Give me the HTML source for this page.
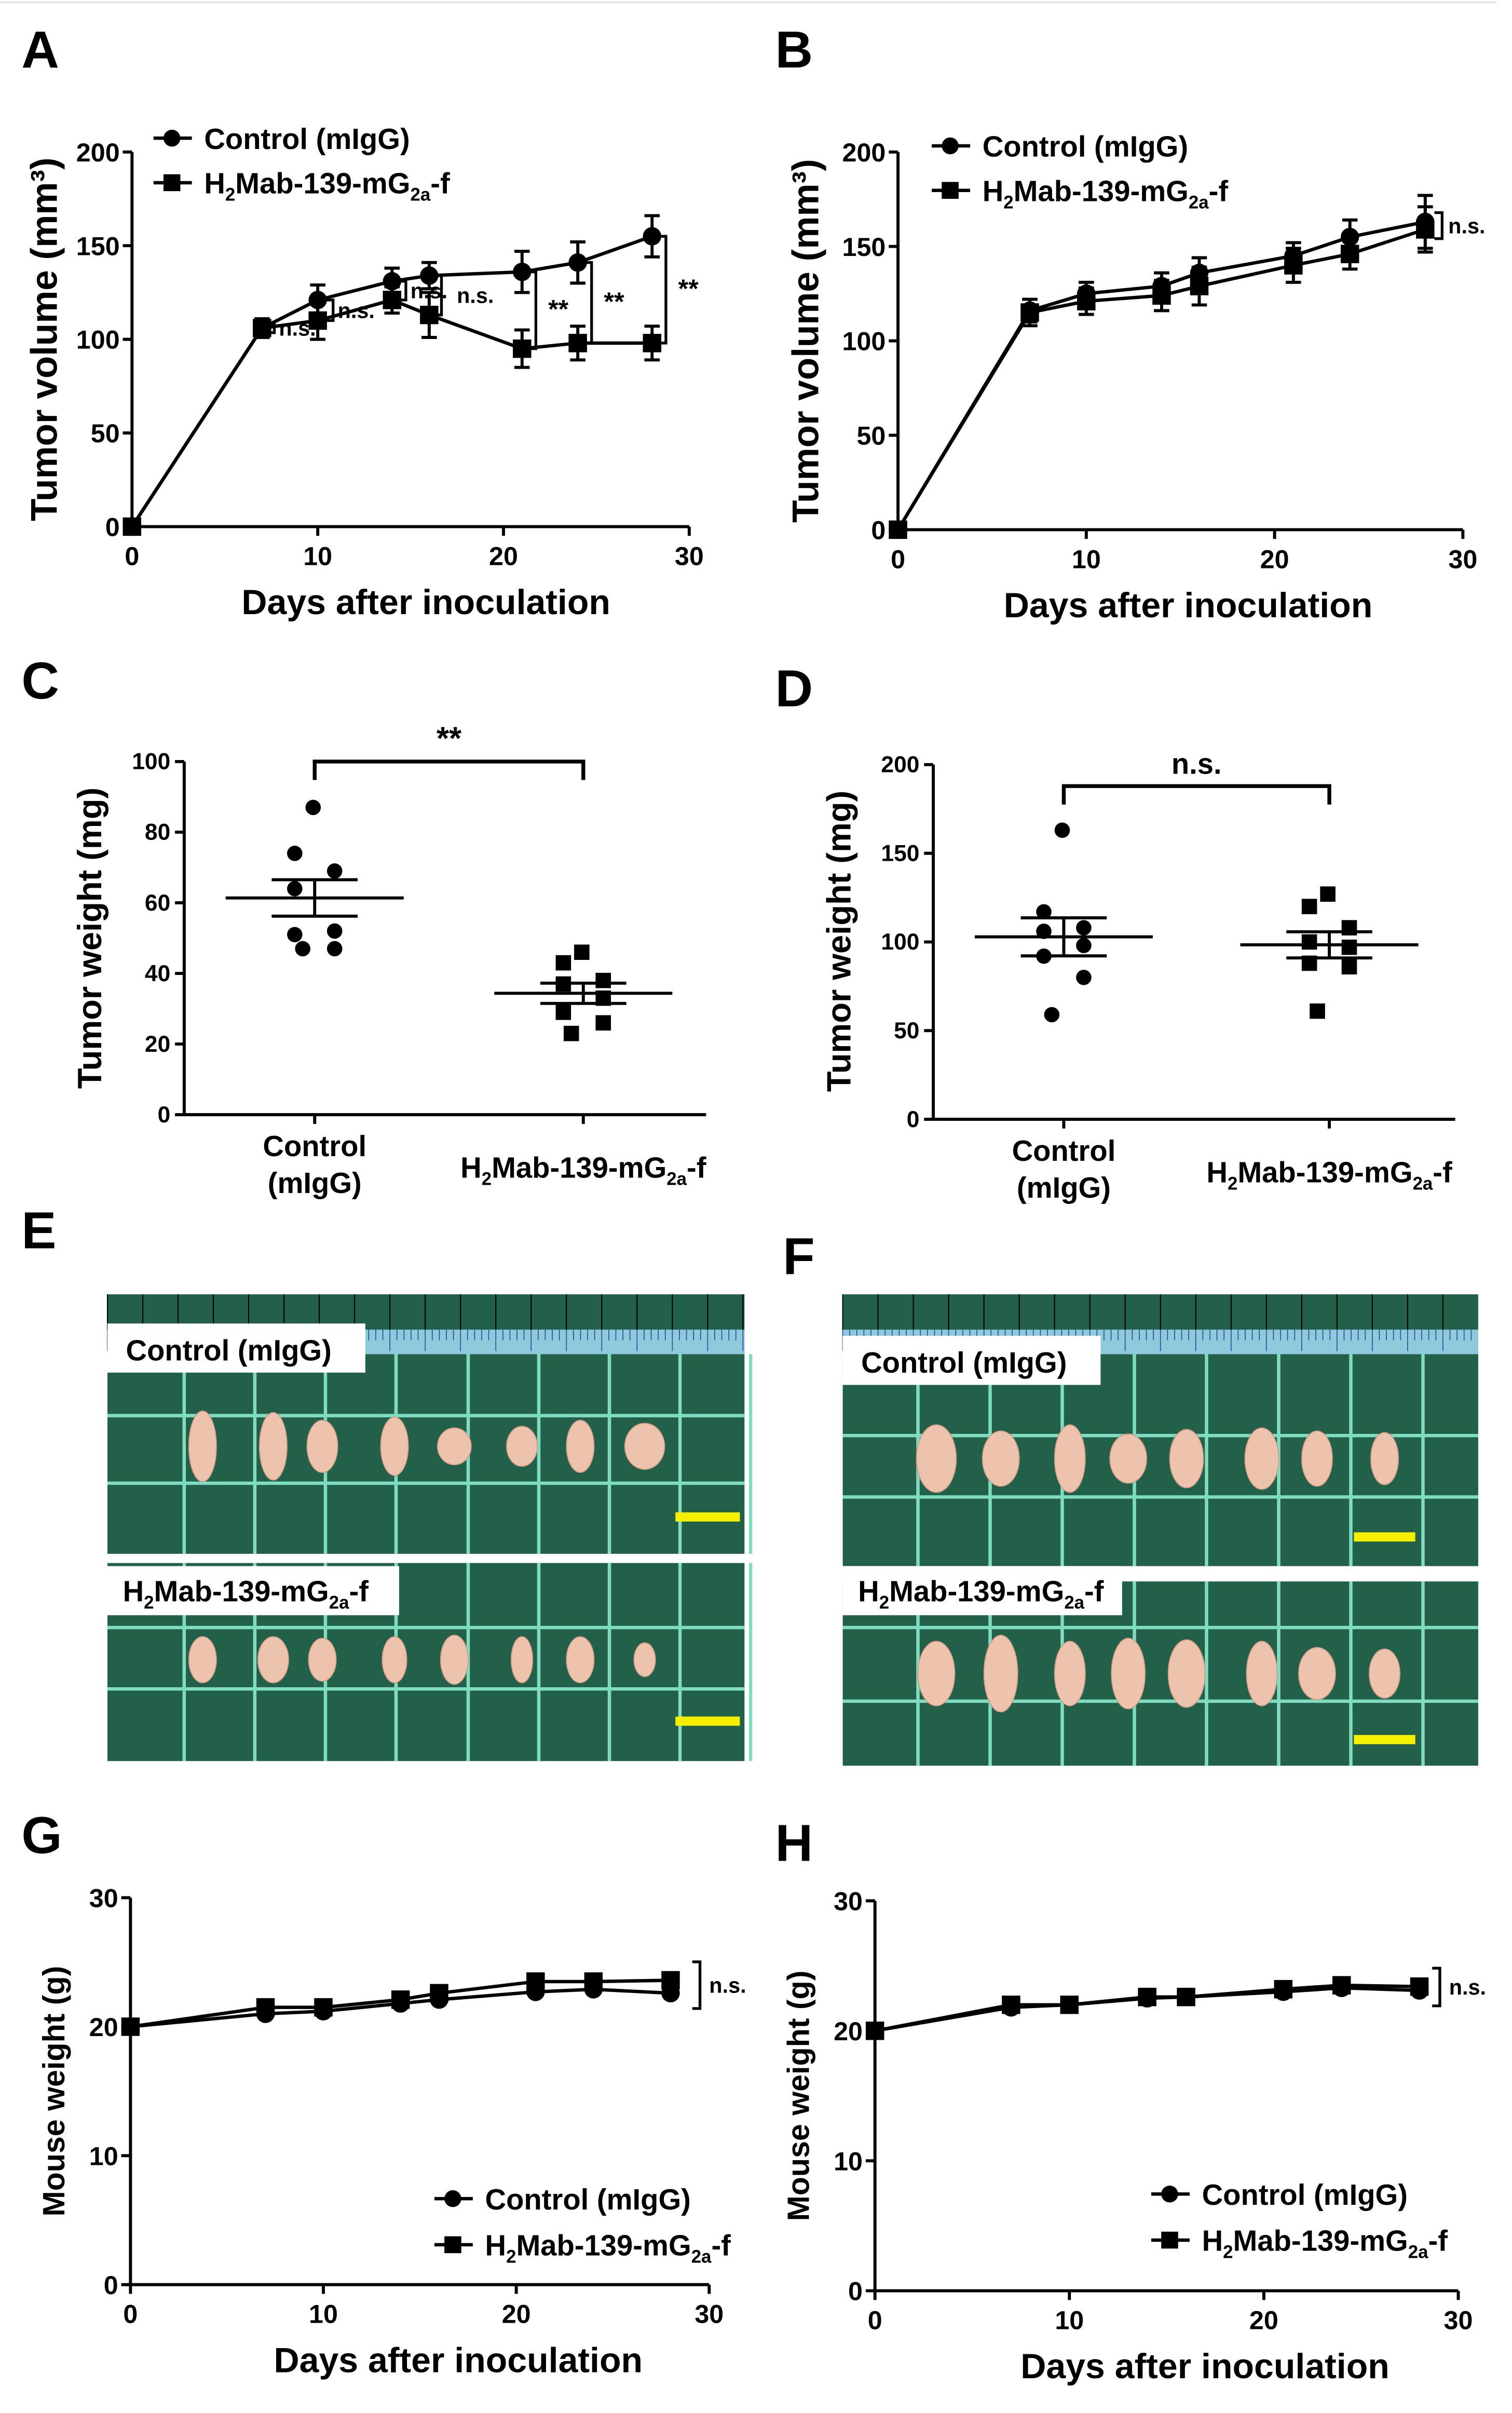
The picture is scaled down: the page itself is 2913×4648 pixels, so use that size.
<!DOCTYPE html>
<html><head><meta charset="utf-8"><style>
html,body{margin:0;padding:0;background:#fff}
svg{display:block}
text{font-family:"Liberation Sans",Arial,sans-serif;font-weight:bold;fill:#000}
</style></head><body>
<svg id="fig" width="2913" height="4648" viewBox="0 0 985 1571.6" preserveAspectRatio="none" xmlns="http://www.w3.org/2000/svg">
<line x1="0" y1="1.5" x2="975" y2="1.5" stroke="#ddd" stroke-width="1"/>
<g id="root"></g>
</svg>
<script>
// ---- data ----
const days = [0,7,10,14,16,21,24,28];
const aCtrl = [0,106,121,131,134,136,141,155];
const aCtrlErr = [0,5,8,7,7,11,11,11];
const aTrt = [0,106,110,121,113,95,98,98];
const aTrtErr = [0,5,10,7,12,10,9,9];
const bCtrl = [0,116,125,129,136,145,155,163];
const bCtrlErr = [0,6,6,7,8,7,9,14];
const bTrt = [0,115,121,124,129,140,146,159];
const bTrtErr = [0,7,7,8,10,9,8,12];
const cCtrl = [87,74,69,64,52,51,47,47];
const cTrt = [46,43,38,37,33,29,26,23];
const dCtrl = [163,117,108,106,98,92,80,59];
const dTrt = [127,120,108,100,97,88,86,61];
const gCtrl = [20,21,21.2,21.8,22.1,22.7,22.9,22.6];
const gTrt = [20,21.5,21.5,22.1,22.6,23.5,23.5,23.6];
const hCtrl = [20,21.8,22,22.5,22.6,23,23.3,23.1];
const hTrt = [20,22,22,22.6,22.6,23.2,23.5,23.4];
const xTicks = [0,10,20,30];
const volTicks = [0,50,100,150,200];
const wtTicks = [0,10,20,30];
const cTicks = [0,20,40,60,80,100];
const dTicks = [0,50,100,150,200];

const NS="http://www.w3.org/2000/svg";
const root=document.getElementById('root');
function el(tag,attrs,parent,txt){const e=document.createElementNS(NS,tag);for(const k in attrs)e.setAttribute(k,attrs[k]);if(txt!==undefined)e.textContent=txt;(parent||root).appendChild(e);return e;}
function grp(name){const g=el('g',{});return g;}
function lin(d0,d1,r0,r1){return v=>r0+(v-d0)/(d1-d0)*(r1-r0);}
function mean(a){return a.reduce((s,v)=>s+v,0)/a.length;}
function sem(a){const m=mean(a);return Math.sqrt(a.reduce((s,v)=>s+(v-m)*(v-m),0)/(a.length-1))/Math.sqrt(a.length);}

function label(x,y,txt,size,parent,anchor,name){const t=el('text',{x:x,y:y,'font-size':size,'text-anchor':anchor||'start'},parent,txt);return t;}
function h2mab(x,y,size,parent,anchor,name){
  const t=el('text',{x:x,y:y,'font-size':size,'text-anchor':anchor||'start'},parent);
  
  const parts=[['H',0],['2',1],['Mab-139-mG',0],['2a',1],['-f',0]];
  parts.forEach(p=>{const s=el('tspan',{},t,p[0]);if(p[1]){s.setAttribute('font-size',size*0.62);}});
  const sp=t.querySelectorAll('tspan');
  sp[1].setAttribute('dy',size*0.25);sp[2].setAttribute('dy',-size*0.25);sp[3].setAttribute('dy',size*0.25);sp[4].setAttribute('dy',-size*0.25);
  return t;
}
function marker(g,type,x,y,r,name){
  let m;
  if(type==='c') m=el('circle',{cx:x,cy:y,r:r,fill:'#000'},g);
  else m=el('rect',{x:x-r,y:y-r,width:2*r,height:2*r,fill:'#000'},g);
  
  return m;
}

function axes(g,X,Y,xt,yt,x0,y0,x1,y1,fs,xtitle,ytitle,ytx,yty){
  const ax=el('path',{d:`M${x0},${y1}V${y0}H${x1}`,stroke:'#000','stroke-width':2,fill:'none'},g);
  
  if(xt) xt.forEach(v=>{el('line',{x1:X(v),x2:X(v),y1:y0,y2:y0+6,stroke:'#000','stroke-width':2},g);label(X(v),y0+25,String(v),fs,g,'middle','x-tick-label');});
  yt.forEach(v=>{el('line',{x1:x0-6,x2:x0,y1:Y(v),y2:Y(v),stroke:'#000','stroke-width':2},g);label(x0-8,Y(v)+fs*0.36,String(v),fs,g,'end','y-tick-label');});
  if(xtitle) label((x0+x1)/2+((ytx.dx)||0),y0+57,xtitle,23,g,'middle','x-axis-title');
  const t=label(0,0,ytitle,ytx.size||24,g,'middle','y-axis-title');
  t.setAttribute('transform',`translate(${ytx.x},${yty}) rotate(-90)`);
  return t;
}

function lineSeries(g,X,Y,xs,ys,errs,type,r,name){
  const s=grp(name);g.appendChild(s);
  const p=el('polyline',{points:xs.map((d,i)=>X(d)+','+Y(ys[i])).join(' '),fill:'none',stroke:'#000','stroke-width':2.2},s);
  
  xs.forEach((d,i)=>{
    if(errs&&errs[i]>0){const x=X(d);const e=el('path',{d:`M${x},${Y(ys[i]-errs[i])}V${Y(ys[i]+errs[i])}M${x-5},${Y(ys[i]-errs[i])}h10M${x-5},${Y(ys[i]+errs[i])}h10`,stroke:'#000','stroke-width':2,fill:'none'},s);}
    marker(s,type,X(d),Y(ys[i]),r,'point');
  });
}
function legend(g,x,y,type,txtFn){
  const l=grp('legend-entry');g.appendChild(l);
  el('line',{x1:x,x2:x+25,y1:y,y2:y,stroke:'#000','stroke-width':2.2},l);
  marker(l,type,x+12,y,5.5,'legend-marker');
  txtFn(x+33,y+7,l);
}
function bracket(g,x,ya,yb,txt,tx,name){
  const b=el('path',{d:`M${x-5},${ya}H${x}V${yb}H${x-5}`,stroke:'#000','stroke-width':1.8,fill:'none'},g);
  
  label(x+(tx||4),(ya+yb)/2+5,txt,txt==='**'?17:14,g,'start','significance-label');
}

// ---- Panel A ----
(function(){
  const g=grp('panel-a');root.appendChild(g);
  label(14,44,'A',34,g,'start','panel-letter-a');
  const X=lin(0,30,86,449),Y=lin(0,200,343,99);
  axes(g,X,Y,xTicks,volTicks,86,343,449,99,17,'Days after inoculation','Tumor volume (mm³)',{x:37,dx:10},221);
  lineSeries(g,X,Y,days,aCtrl,aCtrlErr,'c',6,'series-control');
  lineSeries(g,X,Y,days,aTrt,aTrtErr,'s',6,'series-h2mab');
  legend(g,100,90,'c',(x,y,p)=>label(x,y,'Control (mIgG)',19,p,'start','legend-label'));
  legend(g,100,119,'s',(x,y,p)=>h2mab(x,y,19,p,'start','legend-label'));
  const sig=['n.s.','n.s.','n.s.','n.s.','**','**','**'];
  const off=[3,5,4,3,4,4,4];
  for(let i=1;i<days.length;i++){
    const bx=X(days[i])+off[i-1]+5;
    const ya=Y(Math.max(aCtrl[i],aTrt[i])),yb=Y(Math.min(aCtrl[i],aTrt[i]));
    const t=sig[i-1];
    const tx=(t==='n.s.'&&i<4)?3:(t==='**'?8:10);
    const ym=Math.abs(yb-ya)<6?[ya-3,yb+3]:[ya,yb];
    bracket(g,bx,ym[0],ym[1],t,tx,'significance-bracket');
  }
})();

// ---- Panel B ----
(function(){
  const g=grp('panel-b');root.appendChild(g);
  label(505,44,'B',34,g,'start','panel-letter-b');
  const X=lin(0,30,585,953),Y=lin(0,200,345,99);
  axes(g,X,Y,xTicks,volTicks,585,345,953,99,17,'Days after inoculation','Tumor volume (mm³)',{x:533,dx:5},222);
  lineSeries(g,X,Y,days,bCtrl,bCtrlErr,'c',6,'series-control');
  lineSeries(g,X,Y,days,bTrt,bTrtErr,'s',6,'series-h2mab');
  legend(g,607,95,'c',(x,y,p)=>label(x,y,'Control (mIgG)',19,p,'start','legend-label'));
  legend(g,607,124,'s',(x,y,p)=>h2mab(x,y,19,p,'start','legend-label'));
  const i=days.length-1;
  bracket(g,X(days[i])+11,Y(bCtrl[i])-6,Y(bTrt[i])+6,'n.s.',4,'significance-bracket');
})();

// ---- Scatter panels ----
function scatter(name,letter,lx,ly,x0,y0,y1,ymax,ticks,c1,c2,ctrl,trt,sigTxt,brY,ytx,yty){
  const g=grp(name);root.appendChild(g);
  label(lx,ly,letter,34,g,'start','panel-letter-'+letter.toLowerCase());
  const Y=lin(0,ymax,y0,y1);
  const ax=el('path',{d:`M${x0},${y1}V${y0}H${x0+340}`,stroke:'#000','stroke-width':2,fill:'none'},g);
  
  ticks.forEach(v=>{el('line',{x1:x0-6,x2:x0,y1:Y(v),y2:Y(v),stroke:'#000','stroke-width':2},g);label(x0-9,Y(v)+5,String(v),15,g,'end','y-tick-label');});
  [c1,c2].forEach(c=>el('line',{x1:c,x2:c,y1:y0,y2:y0+6,stroke:'#000','stroke-width':2},g));
  const t=label(0,0,'Tumor weight (mg)',22,g,'middle','y-axis-title');t.setAttribute('transform',`translate(${ytx},${yty}) rotate(-90)`);
  label(c1,y0+27,'Control',19,g,'middle','x-category-label');
  label(c1,y0+51,'(mIgG)',19,g,'middle','x-category-label');
  h2mab(c2,y0+41,19,g,'middle','x-category-label');
  [[ctrl,c1,'c','group-control'],[trt,c2,'s','group-h2mab']].forEach(([arr,cx,type,nm])=>{
    const s=grp(nm);g.appendChild(s);
    const m=mean(arr),e=sem(arr);
    el('path',{d:`M${cx-58},${Y(m)}h116M${cx-28},${Y(m+e)}h56M${cx-28},${Y(m-e)}h56M${cx},${Y(m+e)}V${Y(m-e)}`,stroke:'#000','stroke-width':2,fill:'none'},s);
    const sorted=arr.slice().sort((a,b)=>b-a);
    sorted.forEach((v,i)=>{
      const dx=(i===0)?-1:((i%2)?-13:13)*(i>0&&i<7?1:0.6);
      marker(s,type,cx+dx,Y(v),5,'data-point');
    });
  });
  const b=el('path',{d:`M${c1},${brY+12}V${brY}H${c2}V${brY+12}`,stroke:'#000','stroke-width':2.5,fill:'none'},g);
  
  label((c1+c2)/2,brY-8,sigTxt,sigTxt==='**'?21:19,g,'middle','significance-label');
}
scatter('panel-c','C',14,455,120,726,496,100,cTicks,205,380,cCtrl,cTrt,'**',496,66,611);
scatter('panel-d','D',505,460,608,729,498,200,dTicks,693,866,dCtrl,dTrt,'n.s.',512,554,613);

// ---- Photo panels ----
function photo(name,letter,lx,ly,x,w,y0,rulerH,top,bottom,vlines,labelW1,labelW2,bars,tumorX,tumorSizes){
  const g=grp(name);root.appendChild(g);
  label(lx,ly,letter,34,g,'start','panel-letter-'+letter.toLowerCase());
  const mat=(y,h,nm)=>{const r=el('rect',{x:x,y:y,width:w,height:h,fill:'#22604a'},g);};
  mat(y0,rulerH,'ruler-strip');
  el('rect',{x:x,y:y0+rulerH-16,width:w,height:16,fill:'#8fc9dc'},g);
  for(let xx=x;xx<x+w;xx+=4.6) el('line',{x1:xx,x2:xx,y1:y0+rulerH-16,y2:y0+rulerH-(Math.round((xx-x)/4.6)%5===0?2:9),stroke:'#2a55a0','stroke-width':0.6},g);
  for(let xx=x;xx<x+w;xx+=23) el('line',{x1:xx,x2:xx,y1:y0,y2:y0+rulerH-16,stroke:'#000','stroke-width':0.7},g);
  [top,bottom].forEach((p,pi)=>{
    mat(p.y,p.h,pi?'photo-h2mab':'photo-control');
    vlines.forEach(v=>el('line',{x1:v,x2:v,y1:p.y,y2:p.y+p.h,stroke:'#7fdcc0','stroke-width':2.2},g));
    p.h_lines.forEach(hy=>el('line',{x1:x,x2:x+w,y1:hy,y2:hy,stroke:'#7fdcc0','stroke-width':2.2},g));
    const tg=grp(pi?'tumors-h2mab':'tumors-control');g.appendChild(tg);
    for(let i=0;i<8;i++){
      const sz=tumorSizes[pi][i];
      el('ellipse',{cx:tumorX[i],cy:p.ty,rx:sz[0],ry:sz[1],fill:'#ecc3ad',stroke:'#d29a86','stroke-width':0.6},tg);
    }
    const br=el('rect',{x:bars[0],y:p.bar,width:bars[1],height:6,fill:'#f5f000'},g);
    
    const lw=pi?labelW2:labelW1;
    el('rect',{x:x,y:p.ly,width:lw,height:32,fill:'#fff'},g);
    if(pi) h2mab(x+10,p.ly+23,19,g,'start','photo-label'); else label(x+12,p.ly+24,'Control (mIgG)',19,g,'start','photo-label');
  });
}
photo('panel-e','E',14,813,70,415,843,39,
  {y:882,h:130,h_lines:[922,966],ty:942,bar:985,ly:862},
  {y:1018,h:129,h_lines:[1060,1100],ty:1081,bar:1118,ly:1020},
  [120,166,212,258,305,351,397,443,489],168,190,[440,42],
  [132,178,210,257,296,340,378,420],
  [[[9,23],[9,22],[10,17],[9,19],[11,12],[10,13],[9,17],[13,15]],[[9,15],[10,15],[9,14],[8,15],[9,16],[7,15],[9,15],[7,11]]]);
photo('panel-f','F',510,830,549,414,843,39,
  {y:882,h:138,h_lines:[935,975],ty:950,bar:998,ly:870},
  {y:1030,h:120,h_lines:[1060,1108],ty:1090,bar:1130,ly:1020},
  [598,645,692,739,786,833,880,927],168,182,[882,40],
  [610,652,697,735,773,822,858,902],
  [[[13,22],[12,18],[10,22],[12,16],[11,19],[11,20],[10,18],[9,17]],[[12,21],[11,25],[10,21],[11,23],[12,22],[10,21],[12,17],[10,16]]]);

// ---- Panel G / H ----
function weight(name,letter,lx,ly,x0,x1,y0,y1,ctrl,trt,legX,legY,yt,brX){
  const g=grp(name);root.appendChild(g);
  label(lx,ly,letter,34,g,'start','panel-letter-'+letter.toLowerCase());
  const X=lin(0,30,x0,x1),Y=lin(0,30,y0,y1);
  axes(g,X,Y,xTicks,wtTicks,x0,y0,x1,y1,17,'Days after inoculation','Mouse weight (g)',{x:yt,size:20,dx:25},(y0+y1)/2);
  lineSeries(g,X,Y,days,ctrl,null,'c',6,'series-control');
  lineSeries(g,X,Y,days,trt,null,'s',6,'series-h2mab');
  legend(g,legX,legY,'c',(x,y,p)=>label(x,y,'Control (mIgG)',19,p,'start','legend-label'));
  legend(g,legX,legY+30,'s',(x,y,p)=>h2mab(x,y,19,p,'start','legend-label'));
  const i=days.length-1;
  bracket(g,brX,Y(Math.max(ctrl[i],trt[i]))-12,Y(Math.min(ctrl[i],trt[i]))+10,'n.s.',6,'significance-bracket');
}
weight('panel-g','G',14,1207,85,462,1488,1236,gCtrl,gTrt,283,1432,42,456);
weight('panel-h','H',505,1212,570,950,1492,1238,hCtrl,hTrt,750,1429,527,938);
</script>
</body></html>
